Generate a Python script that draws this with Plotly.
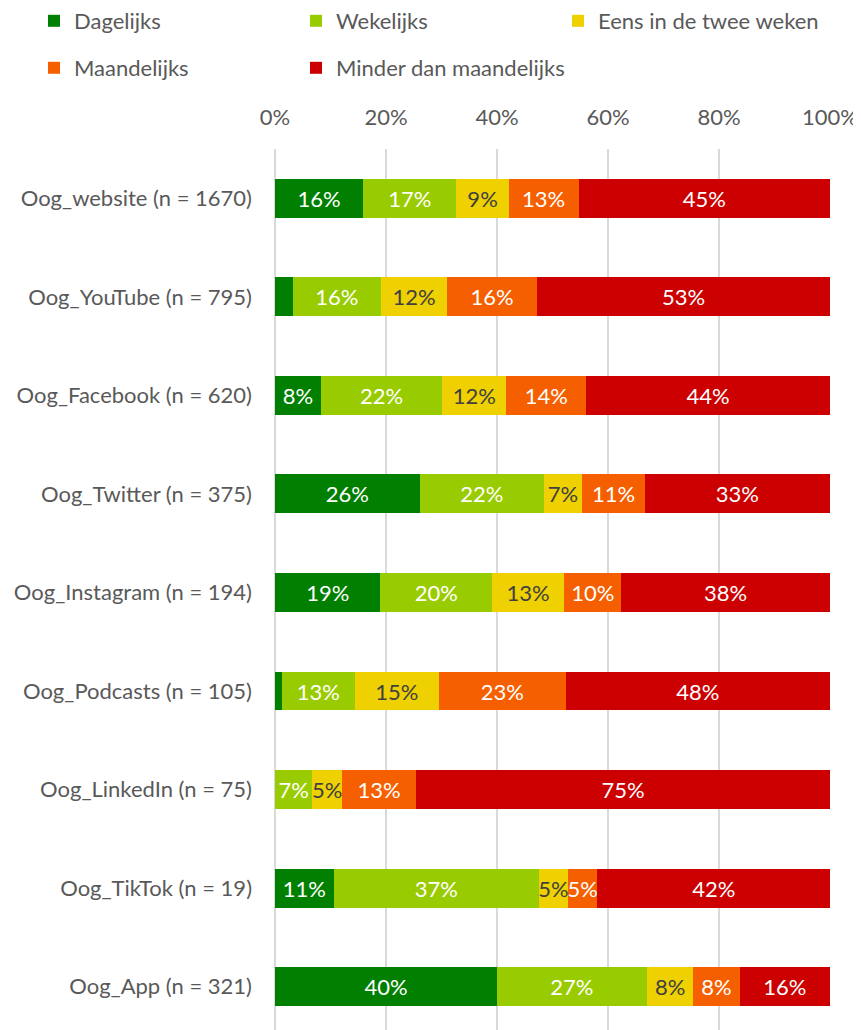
import plotly.graph_objects as go

categories = [
    "Oog_website (n = 1670)",
    "Oog_YouTube (n = 795)",
    "Oog_Facebook (n = 620)",
    "Oog_Twitter (n = 375)",
    "Oog_Instagram (n = 194)",
    "Oog_Podcasts (n = 105)",
    "Oog_LinkedIn (n = 75)",
    "Oog_TikTok (n = 19)",
    "Oog_App (n = 321)",
]

series_names = ["Dagelijks", "Wekelijks", "Eens in de twee weken", "Maandelijks", "Minder dan maandelijks"]

dagelijks = [15.9, 3.2, 8.3, 26.1, 19.0, 1.2, 0.0, 10.6, 40.0]
wekelijks = [16.8, 15.9, 21.8, 22.3, 20.1, 13.2, 6.7, 36.9, 27.0]
eens_twee_weken = [9.4, 11.9, 11.6, 7.0, 13.0, 15.1, 5.4, 5.3, 8.4]
maandelijks = [12.6, 16.2, 14.4, 11.2, 10.3, 22.9, 13.3, 5.3, 8.3]
minder = [45.3, 52.8, 43.9, 33.4, 37.6, 47.6, 74.6, 41.9, 16.3]

x_ticks = [0, 20, 40, 60, 80, 100]
x_tick_labels = ["0%", "20%", "40%", "60%", "80%", "100%"]

colors = ["#007F00", "#99CC00", "#EFD000", "#F55F00", "#CC0000"]
text_colors = ["#FFFFFF", "#FFFFFF", "#404040", "#FFFFFF", "#FFFFFF"]
legend_ids = ["legend", "legend2", "legend3", "legend4", "legend5"]

FONT = "Lato"
GRAY = "#595959"
FS = 22

# page is offset by the browser's 8px body margin
W, H = 853, 1022
leg_x = [26, 288, 550, 26, 288]
leg_y = [13, 13, 13, 60, 60]

fig = go.Figure()
for name, vals, col, tcol, lg in zip(
    series_names,
    [dagelijks, wekelijks, eens_twee_weken, maandelijks, minder],
    colors, text_colors, legend_ids,
):
    labels = [f"{round(v)}%" if v >= 4 else "" for v in vals]
    fig.add_trace(go.Bar(
        y=categories, x=vals, name=name, orientation="h",
        marker=dict(color=col, line=dict(width=0)),
        text=labels, textposition="inside", insidetextanchor="middle",
        textangle=0, constraintext="none",
        textfont=dict(color=tcol, size=FS, family=FONT),
        legend=lg, hoverinfo="skip",
    ))

legends = {}
for lg, lx, ly in zip(legend_ids, leg_x, leg_y):
    legends[lg] = dict(
        orientation="h", xref="container", yref="container",
        x=lx / W, y=1 - ly / H, xanchor="left", yanchor="middle",
        font=dict(size=FS, color=GRAY, family=FONT),
        itemwidth=30, bgcolor="rgba(0,0,0,0)",
    )

fig.update_layout(
    width=W, height=H,
    margin=dict(l=267, r=31, t=141, b=0),
    barmode="stack", bargap=0.605,
    plot_bgcolor="white", paper_bgcolor="white",
    font=dict(family=FONT, size=FS, color=GRAY),
    uniformtext=dict(minsize=FS, mode="show"),
    showlegend=True,
    **legends,
)
fig.update_xaxes(
    side="top", range=[0, 100], tickvals=x_ticks, ticktext=x_tick_labels,
    showgrid=True, gridcolor="#D9D9D9", gridwidth=1.5,
    zeroline=True, zerolinecolor="#D9D9D9", zerolinewidth=1.5,
    showline=False, ticks="",
    tickfont=dict(size=FS, color=GRAY, family=FONT),
    ticklabelstandoff=19,
)
fig.update_yaxes(
    range=[8.44, -0.5], showgrid=False, zeroline=False, showline=False, ticks="",
    tickfont=dict(size=FS, color=GRAY, family=FONT),
    ticklabelstandoff=22,
)

fig.write_html("out.html")
